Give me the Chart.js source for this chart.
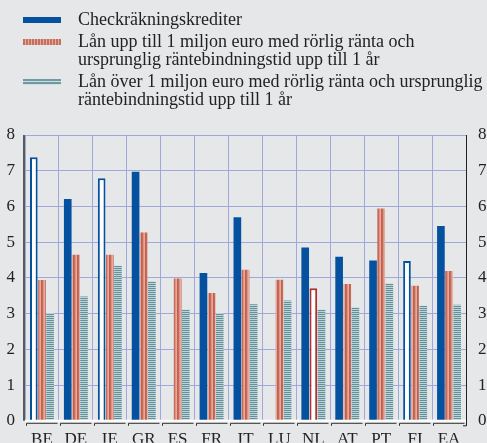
<!DOCTYPE html>
<html>
<head>
<meta charset="utf-8">
<script src="https://cdn.jsdelivr.net/npm/chart.js@4"></script>
<style>
  html, body { margin: 0; padding: 0; background: #e6e7e8; }
  #wrap { position: relative; width: 487px; height: 443px; overflow: hidden; }
  canvas { position: absolute; left: 0; top: 0; }
  #legend { position: absolute; left: 0; top: 0; font-family: "Liberation Serif", "Times New Roman", serif; font-size: 18px; color: #222; }
  .item { position: absolute; left: 78px; line-height: 18.4px; white-space: nowrap; }
  .sw { position: absolute; left: -55px; width: 38px; height: 6px; }
</style>
</head>
<body>
<div id="wrap">
  <canvas id="chart" width="487" height="443"></canvas>
  <div id="legend"></div>
</div>
<script>
// land codes
const categories = ["BE", "DE", "IE", "GR", "ES", "FR", "IT", "LU", "NL", "AT", "PT", "FI", "EA"];

// procent
const checkrakning = [7.38, 6.21, 6.79, 6.97, null, 4.14, 5.70, null, 4.85, 4.59, 4.49, 4.47, 5.45];
const lanUpp1mn    = [3.94, 4.65, 4.65, 5.27, 3.98, 3.58, 4.23, 3.95, 3.71, 3.83, 5.94, 3.78, 4.19];
const lanOver1mn   = [3.02, 3.48, 4.34, 3.90, 3.11, 3.02, 3.26, 3.37, 3.11, 3.17, 3.84, 3.22, 3.25];

// hollow markers (white fill)
const hollowBlue = ["BE", "IE", "FI"];
const hollowRed = ["NL"];

const yTicks = [0, 1, 2, 3, 4, 5, 6, 7, 8];

const legendLabels = [
    "Checkräkningskrediter",
    "Lån upp till 1 miljon euro med rörlig ränta och<br>ursprunglig räntebindningstid upp till 1 år",
    "Lån över 1 miljon euro med rörlig ränta och ursprunglig<br>räntebindningstid upp till 1 år"
];

const BLUE = "#0451a0";
const GRID = "#9ea8da";

// striped fills, colours listed pixel by pixel
function stripePattern(vertical, cols) {
    const p = document.createElement("canvas");
    p.width = vertical ? cols.length : 1;
    p.height = vertical ? 1 : cols.length;
    const g = p.getContext("2d");
    cols.forEach((c, i) => {
        g.fillStyle = c;
        if (vertical) g.fillRect(i, 0, 1, 1);
        else g.fillRect(0, i, 1, 1);
    });
    return g.createPattern(p, "repeat");
}

const ctx = document.getElementById("chart").getContext("2d");
const redPat = stripePattern(true, ["#e6ab9c", "#c2604f", "#c86a58", "#dc9584"]);
const tealPat = stripePattern(false, ["#64909a", "#bcd3d7"]);

const redSwatch = "repeating-linear-gradient(90deg, #c4705f 0 2px, #e6ab9c 2px 3px)";
const tealSwatch = "repeating-linear-gradient(180deg, #6f9aa4 0 2px, #cfe0e3 2px 3px)";

const blueBg = categories.map(c => hollowBlue.includes(c) ? "#ffffff" : BLUE);
const blueBw = categories.map(c => hollowBlue.includes(c) ? 2 : 0);
const redBg = categories.map(c => hollowRed.includes(c) ? "#ffffff" : redPat);
const redBw = categories.map(c => hollowRed.includes(c) ? 2 : 0);

// little brackets under each country + side axis lines
const axisDeco = {
    id: "axisDeco",
    afterDraw(chart) {
        const { ctx, chartArea: a, scales: { x } } = chart;
        const half = (x.getPixelForValue(1) - x.getPixelForValue(0)) / 2;
        ctx.save();
        ctx.strokeStyle = "#ffffff";
        ctx.lineWidth = 2;
        ctx.beginPath();
        ctx.moveTo(a.left, a.bottom);
        ctx.lineTo(a.right, a.bottom);
        ctx.stroke();
        ctx.strokeStyle = "#333";
        ctx.lineWidth = 1;
        categories.forEach((c, i) => {
            const cx = x.getPixelForValue(i);
            const l = Math.round(cx - half) + 1.5, r = Math.round(cx + half) - 1.5;
            ctx.beginPath();
            ctx.moveTo(l, a.bottom + 5);
            ctx.lineTo(l, a.bottom + 2.5);
            ctx.lineTo(r, a.bottom + 2.5);
            ctx.stroke();
        });
        ctx.strokeStyle = "#5a5a5a";
        ctx.lineWidth = 2;
        ctx.beginPath();
        ctx.moveTo(a.left - 1, a.top);
        ctx.lineTo(a.left - 1, a.bottom);
        ctx.stroke();
        ctx.strokeStyle = "#222";
        ctx.lineWidth = 1;
        ctx.beginPath();
        ctx.moveTo(a.right + 0.5, a.top);
        ctx.lineTo(a.right + 0.5, a.bottom + 5);
        ctx.lineTo(a.right - 3, a.bottom + 5);
        ctx.stroke();
        ctx.restore();
    }
};

const font = { family: "'Liberation Serif', 'Times New Roman', serif", size: 17 };

new Chart(ctx, {
    type: "bar",
    data: {
        labels: categories,
        datasets: [
            { label: "Checkräkningskrediter", data: checkrakning, backgroundColor: blueBg, borderColor: BLUE, borderWidth: blueBw },
            { label: "Lån upp till 1 miljon euro", data: lanUpp1mn, backgroundColor: redBg, borderColor: "#b03028", borderWidth: redBw },
            { label: "Lån över 1 miljon euro", data: lanOver1mn, backgroundColor: tealPat, borderWidth: 0 }
        ]
    },
    options: {
        responsive: false,
        animation: false,
        layout: { autoPadding: false, padding: { top: 135, left: 0, right: 0, bottom: 0 } },
        categoryPercentage: 0.72,
        barPercentage: 0.94,
        plugins: { legend: { display: false }, tooltip: { enabled: false } },
        scales: {
            x: {
                grid: { color: GRID, lineWidth: 1, offset: true, drawTicks: false },
                border: { display: false },
                ticks: { font, color: "#222", padding: 9 },
                afterFit(s) { s.height = 22; }
            },
            y: {
                min: 0, max: 8,
                afterBuildTicks(s) { s.ticks = yTicks.map(v => ({ value: v })); },
                grid: { color: GRID, lineWidth: 1, drawTicks: false },
                border: { display: false },
                ticks: { font, color: "#222", padding: 10 },
                afterFit(s) { s.width = 25; }
            },
            y2: {
                position: "right",
                min: 0, max: 8,
                afterBuildTicks(s) { s.ticks = yTicks.map(v => ({ value: v })); },
                grid: { display: false, drawTicks: false },
                border: { display: false },
                ticks: { font, color: "#222", padding: 12 },
                afterFit(s) { s.width = 21; }
            }
        }
    },
    plugins: [axisDeco]
});

// legend
const legend = document.getElementById("legend");
const tops = [10, 32, 72];
const swatches = [BLUE, redSwatch, tealSwatch];
legendLabels.forEach((t, i) => {
    const d = document.createElement("div");
    d.className = "item";
    d.style.top = tops[i] + "px";
    d.innerHTML = '<span class="sw" style="top:7px;background:' + swatches[i] + '"></span>' + t;
    legend.appendChild(d);
});
</script>
</body>
</html>
